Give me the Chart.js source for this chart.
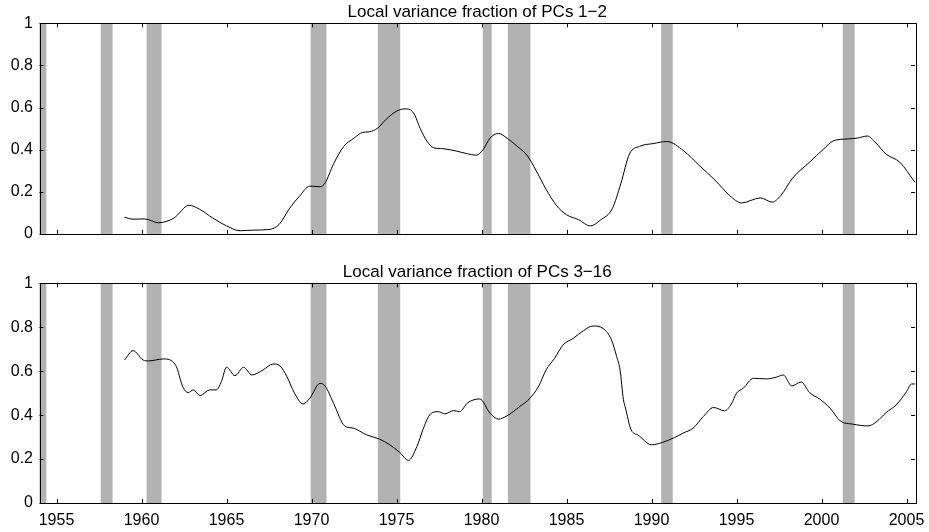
<!DOCTYPE html>
<html>
<head>
<meta charset="utf-8">
<script src="https://cdn.jsdelivr.net/npm/chart.js@4/dist/chart.umd.min.js"></script>
<style>
  body { margin: 0; background: #fff; }
  .panel { position: absolute; left: 0; }
</style>
</head>
<body>
<div class="panel" style="top:0"><canvas id="pc-1-2" width="929" height="250"></canvas></div>
<div class="panel" style="top:260px"><canvas id="pc-3-16" width="929" height="272"></canvas></div>
<script>
// years on the x axis, tick marks
const xTickYears = [1955, 1960, 1965, 1970, 1975, 1980, 1985, 1990, 1995, 2000, 2005];
const yTickValues = [0, 0.2, 0.4, 0.6, 0.8, 1];

// recessions (grey bands)
const recessionStart = [1953.5, 1957.6, 1960.3, 1969.95, 1973.9, 1980.08, 1981.55, 1990.57, 2001.25];
const recessionEnd   = [1954.4, 1958.3, 1961.18, 1970.88, 1975.22, 1980.6, 1982.88, 1991.25, 2001.95];

// local variance fraction of PCs 1-2
const pc12Years = [1959.0, 1959.5, 1960.2, 1961.0, 1961.9, 1962.8, 1963.4, 1964.2, 1965.0, 1965.8,
  1966.6, 1967.5, 1968.1, 1968.7, 1969.3, 1969.9, 1970.5, 1970.8, 1971.3, 1971.9,
  1972.5, 1973.0, 1973.4, 1973.9, 1974.4, 1975.0, 1975.5, 1976.0, 1976.4, 1976.8,
  1977.2, 1977.7, 1978.5, 1979.1, 1979.7, 1980.1, 1980.5, 1981.0, 1981.5, 1982.1,
  1982.7, 1983.2, 1983.8, 1984.4, 1985.0, 1985.7, 1986.4, 1987.0, 1987.7, 1988.2,
  1988.7, 1989.3, 1990.1, 1990.9, 1991.9, 1992.8, 1993.8, 1994.6, 1995.3, 1996.4,
  1997.1, 1997.6, 1998.3, 1999.3, 2000.1, 2000.7, 2001.5, 2002.1, 2002.7, 2003.2,
  2003.8, 2004.6, 2005.5];
const pc12Values = [0.079, 0.070, 0.071, 0.053, 0.075, 0.136, 0.118, 0.075, 0.038, 0.015,
  0.018, 0.021, 0.045, 0.120, 0.180, 0.227, 0.224, 0.242, 0.333, 0.416,
  0.455, 0.482, 0.485, 0.503, 0.545, 0.583, 0.594, 0.575, 0.500, 0.439,
  0.409, 0.405, 0.394, 0.382, 0.374, 0.401, 0.455, 0.477, 0.455, 0.416,
  0.371, 0.303, 0.212, 0.136, 0.091, 0.068, 0.038, 0.066, 0.121, 0.240,
  0.379, 0.416, 0.429, 0.439, 0.394, 0.326, 0.250, 0.182, 0.147, 0.171,
  0.151, 0.182, 0.265, 0.341, 0.401, 0.442, 0.451, 0.455, 0.465, 0.432,
  0.379, 0.341, 0.245];

// local variance fraction of PCs 3-16
const pc316Years = [1959.0, 1959.5, 1960.1, 1960.4, 1961.3, 1962.0, 1962.45, 1962.75, 1963.05, 1963.45,
  1964.0, 1964.4, 1964.7, 1965.0, 1965.5, 1966.0, 1966.5, 1967.15, 1967.75, 1968.15,
  1968.55, 1969.0, 1969.5, 1969.9, 1970.5, 1970.8, 1971.3, 1971.95, 1972.45, 1973.25,
  1974.0, 1974.6, 1975.2, 1975.7, 1976.2, 1976.55, 1976.95, 1977.45, 1977.85, 1978.35,
  1978.7, 1979.2, 1979.9, 1980.5, 1981.0, 1981.5, 1982.25, 1982.85, 1983.35, 1983.8,
  1984.3, 1984.8, 1985.4, 1986.0, 1986.55, 1987.15, 1987.65, 1987.95, 1988.15, 1988.35,
  1988.45, 1988.8, 1989.2, 1990.0, 1990.65, 1991.35, 1991.85, 1992.45, 1993.05, 1993.65,
  1994.3, 1994.7, 1995.0, 1995.4, 1996.0, 1996.75, 1997.35, 1997.75, 1998.25, 1998.8,
  1999.3, 1999.9, 2000.5, 2001.1, 2001.85, 2002.75, 2003.25, 2003.8, 2004.4, 2005.0,
  2005.3, 2005.5];
const pc316Values = [0.651, 0.694, 0.651, 0.647, 0.656, 0.629, 0.526, 0.503, 0.515, 0.489,
  0.515, 0.515, 0.553, 0.618, 0.580, 0.618, 0.583, 0.606, 0.633, 0.624,
  0.576, 0.500, 0.451, 0.477, 0.545, 0.533, 0.454, 0.351, 0.341, 0.310,
  0.291, 0.265, 0.230, 0.194, 0.257, 0.333, 0.401, 0.416, 0.406, 0.421,
  0.416, 0.457, 0.474, 0.409, 0.382, 0.397, 0.439, 0.477, 0.530, 0.606,
  0.659, 0.720, 0.750, 0.785, 0.806, 0.795, 0.742, 0.667, 0.606, 0.470,
  0.439, 0.333, 0.310, 0.265, 0.276, 0.298, 0.318, 0.341, 0.394, 0.435,
  0.420, 0.451, 0.500, 0.523, 0.568, 0.565, 0.573, 0.583, 0.533, 0.551,
  0.503, 0.473, 0.432, 0.374, 0.359, 0.351, 0.371, 0.412, 0.447, 0.507,
  0.542, 0.542];

const FONT = '"Liberation Sans", Arial, sans-serif';

// grey bands behind the line, box and inward ticks on all four sides
const matlabAxes = {
  id: 'matlabAxes',
  beforeDatasetsDraw(chart) {
    const { ctx, chartArea: a, scales: { x } } = chart;
    ctx.save();
    ctx.beginPath();
    ctx.rect(a.left, a.top, a.right - a.left, a.bottom - a.top);
    ctx.clip();
    ctx.fillStyle = '#b2b2b2';
    for (let i = 0; i < recessionStart.length; i++) {
      const x0 = x.getPixelForValue(recessionStart[i]);
      const x1 = x.getPixelForValue(recessionEnd[i]);
      ctx.fillRect(x0, a.top, x1 - x0, a.bottom - a.top);
    }
    ctx.restore();
  },
  afterDraw(chart) {
    const { ctx, chartArea: a, scales: { x, y } } = chart;
    const len = 4;
    ctx.save();
    ctx.strokeStyle = '#000';
    ctx.lineWidth = 1;
    ctx.beginPath();
    xTickYears.forEach(v => {
      const px = Math.round(x.getPixelForValue(v)) + 0.5;
      ctx.moveTo(px, a.bottom); ctx.lineTo(px, a.bottom - len);
      ctx.moveTo(px, a.top); ctx.lineTo(px, a.top + len);
    });
    yTickValues.forEach(v => {
      const py = Math.round(y.getPixelForValue(v)) + 0.5;
      ctx.moveTo(a.left, py); ctx.lineTo(a.left + len, py);
      ctx.moveTo(a.right, py); ctx.lineTo(a.right - len, py);
    });
    ctx.stroke();
    ctx.strokeRect(Math.round(a.left) + 0.5, Math.round(a.top) + 0.5,
      Math.round(a.right - a.left), Math.round(a.bottom - a.top));
    ctx.restore();
  }
};

function makePanel(canvasId, title, years, values, showYears, axisHeight) {
  const points = years.map((yr, i) => ({ x: yr, y: values[i] }));
  return new Chart(document.getElementById(canvasId), {
    type: 'line',
    data: {
      datasets: [{
        data: points,
        borderColor: '#000',
        borderWidth: 1,
        pointRadius: 0,
        cubicInterpolationMode: 'monotone',
        fill: false
      }]
    },
    options: {
      responsive: false,
      animation: false,
      devicePixelRatio: 1,
      layout: { padding: { left: 0, right: 14, top: 0, bottom: 0 } },
      plugins: {
        legend: { display: false },
        tooltip: { enabled: false },
        title: {
          display: true,
          text: title,
          color: '#000',
          fullSize: false,
          font: { family: FONT, size: 17, weight: 'normal' },
          padding: { top: 2, bottom: 1 }
        }
      },
      scales: {
        x: {
          type: 'linear',
          min: 1954,
          max: 2005.5,
          afterBuildTicks: s => { s.ticks = xTickYears.map(v => ({ value: v })); },
          afterFit: s => {
            s.height = axisHeight;
            s.paddingLeft = 0;
            s.paddingRight = 0;
          },
          grid: { display: false, drawTicks: false },
          border: { display: false },
          ticks: {
            display: showYears,
            color: '#000',
            padding: 8,
            maxRotation: 0,
            autoSkip: false,
            font: { family: FONT, size: 16 },
            callback: v => String(v)
          }
        },
        y: {
          min: 0,
          max: 1,
          afterBuildTicks: s => { s.ticks = yTickValues.map(v => ({ value: v })); },
          afterFit: s => { s.width = 39.5; },
          grid: { display: false, drawTicks: false },
          border: { display: false },
          ticks: {
            color: '#000',
            padding: 6.5,
            font: { family: FONT, size: 16 },
            callback: v => String(v)
          }
        }
      }
    },
    plugins: [matlabAxes]
  });
}

makePanel('pc-1-2', 'Local variance fraction of PCs 1\u22122', pc12Years, pc12Values, false, 7);
makePanel('pc-3-16', 'Local variance fraction of PCs 3\u221216', pc316Years, pc316Values, true, 29);
</script>
</body>
</html>
